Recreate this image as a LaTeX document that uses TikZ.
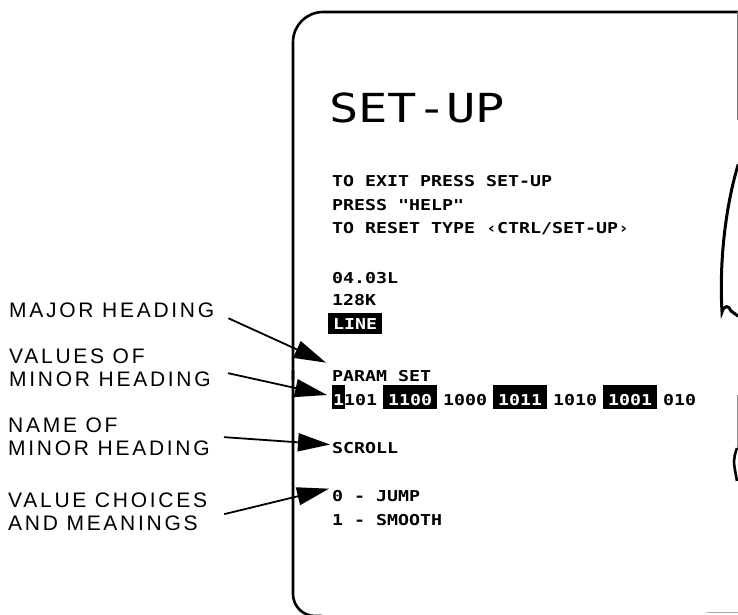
\documentclass[tikz,border=0pt]{standalone}
\usepackage{fontspec}
\usetikzlibrary{arrows.meta, calc}
\newfontfamily\lblfont[LetterSpace=13]{Liberation Sans}
\newfontfamily\scrfont[FakeStretch=1.218]{DejaVu Sans Mono}

\begin{document}
\begin{tikzpicture}[x=1pt, y=-1pt,
    lbl/.style={font=\lblfont\fontsize{21}{23}\selectfont, inner sep=0pt, align=left, anchor=north west},
    scr/.style={font=\scrfont\bfseries\fontsize{15}{18}\selectfont, inner sep=0pt, anchor=base west},
    inv/.style={scr, fill=black, text=white, inner xsep=5pt, inner ysep=4pt, text height=16pt, text depth=0pt},
    ptr/.style={line width=1.8pt, -{Triangle[length=32pt, width=18pt]}},
    rim/.style={line width=2.6pt}]
    \useasboundingbox (0,0) rectangle (738,614);

    % screen outline and torn right side
    \draw[rim, rounded corners=30pt] (738,12) -- (293,12) -- (293,380);
    \draw[rim, rounded corners=22pt] (293,370) -- (293,616) -- (322,616);
    \draw[line width=0.8pt, black!55] (737,12) -- (737,120);
    \draw[line width=3pt, line cap=round] (738,165) .. controls (726,205) and (719,260) .. (722,312)
        .. controls (724,305) and (729,305) .. (731,311) -- (738,316);
    \draw[line width=0.8pt, black!45] (737,395) -- (737,450);
    \draw[line width=2.6pt] (737,448) .. controls (733,460) .. (737,481);
    \draw[line width=0.8pt, black!35] (707,612) -- (738,612);

    % screen text
    \node[scr, font=\scrfont\fontsize{40}{40}\selectfont] (title) at (329,122) {SET-UP};
    \node[scr] (exit) at (332,186) {TO EXIT PRESS SET-UP};
    \node[scr] (help) at (332,210) {PRESS "HELP"};
    \node[scr] (reset) at (332,233) {TO RESET TYPE ‹CTRL/SET-UP›};
    \node[scr] (vers) at (332,283) {04.03L};
    \node[scr] (mem) at (332,305) {128K};
    \node[inv, text height=12pt, text depth=1pt] (line) at (328,329) {LINE};
    \node[scr] (param) at (332,381) {PARAM SET};
    \node[inv, inner xsep=1pt] (d1) at (332,405) {1};
    \node[scr] (d2) at (344,405) {101};
    \node[inv] (d3) at (383,405) {1100};
    \node[scr] (d4) at (443,405) {1000};
    \node[inv] (d5) at (493,405) {1011};
    \node[scr] (d6) at (553,405) {1010};
    \node[inv] (d7) at (603,405) {1001};
    \node[scr] (d8) at (663,405) {010};
    \node[scr] (scroll) at (332,453) {SCROLL};
    \node[scr] (jump) at (332,501) {0 - JUMP};
    \node[scr] (smooth) at (332,525) {1 - SMOOTH};

    % callout labels
    \node[lbl] (majl) at (9,303) {MAJOR HEADING};
    \node[lbl] (vall) at (9,349) {VALUES OF\\MINOR HEADING};
    \node[lbl] (namel) at (8,418) {NAME OF\\MINOR HEADING};
    \node[lbl] (choil) at (8,493) {VALUE CHOICES\\AND MEANINGS};

    \draw[ptr] ([xshift=14pt]majl.south east) -- ([shift={(-6pt,7pt)}]param.north west);
    \draw[ptr] ([shift={(17pt,-5pt)}]vall.east) -- ([shift={(-5pt,2pt)}]d1.west);
    \draw[ptr] ([xshift=14pt]namel.east) -- ([shift={(-2pt,3pt)}]scroll.west);
    \draw[ptr] ([shift={(17pt,-2pt)}]choil.east) -- ([shift={(-3pt,1pt)}]jump.north west);
  \end{tikzpicture}
\end{document}
